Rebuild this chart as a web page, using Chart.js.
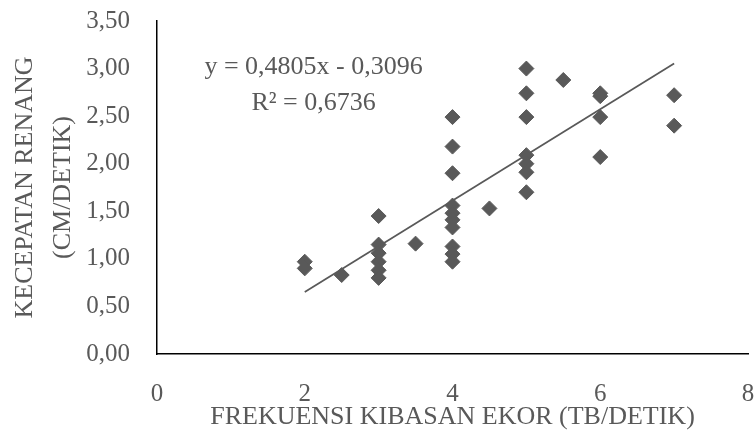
<!DOCTYPE html>
<html>
<head>
<meta charset="utf-8">
<script src="https://cdn.jsdelivr.net/npm/chart.js@4/dist/chart.umd.min.js"></script>
<style>
  html, body { margin: 0; padding: 0; background: #fff; }
  #wrap { width: 756px; height: 448px; }
</style>
</head>
<body>
<div id="wrap"><canvas id="myChart" width="756" height="448"></canvas></div>
<script>
// tail beat frequency (x) and swim speed (y)
const freqX = [2, 2, 2.5,
    3, 3, 3, 3, 3, 3,
    3.5,
    4, 4, 4, 4, 4, 4, 4, 4, 4, 4,
    4.5,
    5, 5, 5, 5, 5, 5, 5,
    5.5,
    6, 6, 6, 6,
    7, 7];
const speedY = [0.97, 0.90, 0.83,
    1.45, 1.15, 1.06, 0.97, 0.88, 0.80,
    1.16,
    2.49, 2.18, 1.90, 1.56, 1.48, 1.41, 1.33, 1.13, 1.05, 0.97,
    1.53,
    3.00, 2.74, 2.49, 2.09, 2.00, 1.91, 1.70,
    2.88,
    2.74, 2.71, 2.49, 2.07,
    2.72, 2.40];

// linear trend line ends (y = 0,4805x - 0,3096)
const trendX = [2, 7];
const trendY = [0.6514, 3.0539];

const eqLines = ['y = 0,4805x - 0,3096', 'R² = 0,6736'];
const xTitle = 'FREKUENSI KIBASAN EKOR (TB/DETIK)';
const yTitle = ['KECEPATAN RENANG', '(CM/DETIK)'];

const grey = '#595959';
const fontFam = '"Liberation Serif", "Times New Roman", serif';

const points = freqX.map((x, i) => ({x: x, y: speedY[i]}));
const trend = trendX.map((x, i) => ({x: x, y: trendY[i]}));

// draws the trendline equation, anchored in data units
const eqPlugin = {
    id: 'eqText',
    afterDatasetsDraw(chart){
        const xs = chart.scales.x, ys = chart.scales.y;
        const ctx = chart.ctx;
        ctx.save();
        ctx.fillStyle = grey;
        ctx.font = '26px ' + fontFam;
        ctx.textAlign = 'center';
        ctx.textBaseline = 'middle';
        ctx.fillText(eqLines[0], xs.getPixelForValue(2.12), ys.getPixelForValue(3.01));
        ctx.fillText(eqLines[1], xs.getPixelForValue(2.12), ys.getPixelForValue(2.64));
        ctx.restore();
    }
};

const ctx = document.getElementById('myChart').getContext('2d');
new Chart(ctx, {
    type: 'scatter',
    data: {
        datasets: [
            {
                label: 'data',
                data: points,
                pointStyle: 'rectRot',
                pointRadius: 7.5,
                pointHoverRadius: 7.5,
                backgroundColor: grey,
                borderColor: grey,
                borderWidth: 1,
            },
            {
                label: 'trend',
                type: 'line',
                data: trend,
                showLine: true,
                pointRadius: 0,
                borderColor: grey,
                borderWidth: 1.75,
                fill: false,
            }
        ]
    },
    options: {
        responsive: false,
        animation: false,
        devicePixelRatio: 1,
        layout: { padding: { top: 21, right: 8, left: 0, bottom: 0 }, autoPadding: false },
        plugins: { legend: { display: false }, tooltip: { enabled: false } },
        scales: {
            x: {
                type: 'linear',
                min: 0, max: 8,
                afterFit(scale){
                    scale.height = 94;
                    scale.paddingLeft = 0;
                    scale.paddingRight = 0;
                },
                grid: { display: false, drawTicks: false },
                border: { display: true, color: '#000', width: 1.5 },
                ticks: { stepSize: 2, padding: 25, color: grey, font: { family: fontFam, size: 25 } },
                title: {
                    display: true, text: xTitle, color: grey,
                    font: { family: fontFam, size: 26, lineHeight: 1.2 },
                    padding: { top: 0, bottom: 15 }
                }
            },
            y: {
                type: 'linear',
                min: 0, max: 3.5,
                afterFit(scale){
                    scale.width = 157;
                    scale.paddingTop = 0;
                    scale.paddingBottom = 0;
                },
                grid: { display: false, drawTicks: false },
                border: { display: true, color: '#000', width: 1.5 },
                ticks: {
                    stepSize: 0.5, padding: 27, color: grey,
                    font: { family: fontFam, size: 25 },
                    callback: v => v.toFixed(2).replace('.', ',')
                },
                title: {
                    display: true, text: yTitle, color: grey,
                    font: { family: fontFam, size: 26, lineHeight: 1.46 },
                    padding: { top: 6, bottom: 0 }
                }
            }
        }
    },
    plugins: [eqPlugin]
});
</script>
</body>
</html>
